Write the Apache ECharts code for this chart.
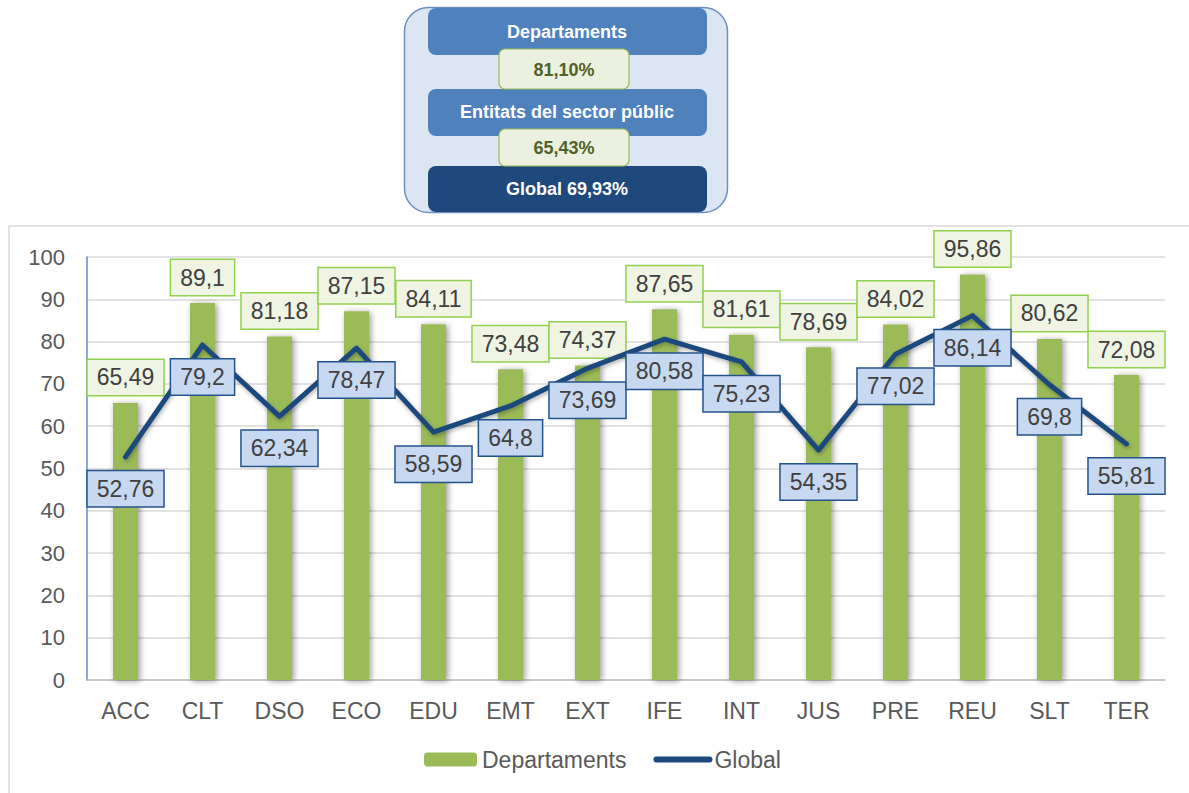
<!DOCTYPE html>
<html>
<head>
<meta charset="utf-8">
<script src="https://cdn.jsdelivr.net/npm/echarts@6/dist/echarts.min.js"></script>
<style>
html,body{margin:0;padding:0;background:#fff;}
#chart{width:1189px;height:793px;}
</style>
</head>
<body>
<div id="chart"></div>
<script>
const categories = ['ACC','CLT','DSO','ECO','EDU','EMT','EXT','IFE','INT','JUS','PRE','REU','SLT','TER'];
const departaments = [65.49, 89.1, 81.18, 87.15, 84.11, 73.48, 74.37, 87.65, 81.61, 78.69, 84.02, 95.86, 80.62, 72.08];
const global = [52.76, 79.2, 62.34, 78.47, 58.59, 64.8, 73.69, 80.58, 75.23, 54.35, 77.02, 86.14, 69.8, 55.81];
const seriesNames = ['Departaments', 'Global'];
const summaryTitles = ['Departaments', 'Entitats del sector públic'];
const summaryValues = ['81,10%', '65,43%'];
const summaryGlobal = 'Global 69,93%';

const FONT = '"Liberation Sans", Arial, sans-serif';
const fmt = v => String(v).replace('.', ',');

const chart = echarts.init(document.getElementById('chart'), null, {renderer: 'svg'});

const option = {
  backgroundColor: '#ffffff',
  animation: false,
  textStyle: {fontFamily: FONT},
  graphic: [
    {type: 'rect', shape: {x: 9, y: 226, width: 1195, height: 600}, style: {fill: 'none', stroke: '#D9D9D9', lineWidth: 1.5}, z: -10, silent: true},
    {type: 'rect', shape: {x: 404.5, y: 7.5, width: 323, height: 205, r: 24}, style: {fill: '#DCE6F2', stroke: '#6F8FBF', lineWidth: 1.5}, z: 1},
    {type: 'rect', shape: {x: 428, y: 8, width: 279, height: 47, r: 8}, style: {fill: '#4F81BD'}, z: 2},
    {type: 'text', x: 567, y: 32, style: {text: summaryTitles[0], fill: '#ffffff', font: 'bold 18px ' + FONT, align: 'center', verticalAlign: 'middle'}, z: 3},
    {type: 'rect', shape: {x: 428, y: 89, width: 279, height: 47, r: 8}, style: {fill: '#4F81BD'}, z: 2},
    {type: 'text', x: 567, y: 112, style: {text: summaryTitles[1], fill: '#ffffff', font: 'bold 18px ' + FONT, align: 'center', verticalAlign: 'middle'}, z: 3},
    {type: 'rect', shape: {x: 428, y: 166, width: 279, height: 46, r: 8}, style: {fill: '#1F497D'}, z: 2},
    {type: 'text', x: 567, y: 189, style: {text: summaryGlobal, fill: '#ffffff', font: 'bold 18px ' + FONT, align: 'center', verticalAlign: 'middle'}, z: 3},
    {type: 'rect', shape: {x: 499, y: 49, width: 130, height: 40, r: 6}, style: {fill: '#EBF1DE', stroke: '#9BBB59', lineWidth: 1.2}, z: 4},
    {type: 'text', x: 564, y: 70, style: {text: summaryValues[0], fill: '#4F6228', font: 'bold 18px ' + FONT, align: 'center', verticalAlign: 'middle'}, z: 5},
    {type: 'rect', shape: {x: 499, y: 129, width: 130, height: 37, r: 6}, style: {fill: '#EBF1DE', stroke: '#9BBB59', lineWidth: 1.2}, z: 4},
    {type: 'text', x: 564, y: 148, style: {text: summaryValues[1], fill: '#4F6228', font: 'bold 18px ' + FONT, align: 'center', verticalAlign: 'middle'}, z: 5}
  ],
  legend: {
    data: [
      {name: seriesNames[0]},
      {name: seriesNames[1], itemStyle: {opacity: 0}, lineStyle: {width: 6, cap: 'round', color: '#1F497D'}}
    ],
    left: 424,
    top: 748,
    padding: 0,
    itemWidth: 53,
    itemHeight: 14,
    itemGap: 27,
    textStyle: {fontSize: 23, color: '#595959', fontFamily: FONT, padding: [0, 0, 0, 0]}
  },
  grid: {left: 87, right: 24, top: 257, bottom: 113, containLabel: false},
  xAxis: {
    type: 'category',
    data: categories,
    axisLine: {show: true, lineStyle: {color: '#BFBFBF', width: 1.5}},
    axisTick: {show: false},
    axisLabel: {color: '#595959', fontSize: 23, margin: 19, fontFamily: FONT}
  },
  yAxis: {
    type: 'value',
    min: 0,
    max: 100,
    interval: 10,
    axisLine: {show: true, lineStyle: {color: '#5B8FD0', width: 1.5}},
    axisTick: {show: false},
    axisLabel: {color: '#595959', fontSize: 22, margin: 22, fontFamily: FONT},
    splitLine: {lineStyle: {color: '#D9D9D9', width: 1.5}}
  },
  series: [
    {
      name: seriesNames[0],
      type: 'bar',
      data: departaments,
      barWidth: 25,
      itemStyle: {color: '#9BBB59', shadowBlur: 6, shadowOffsetX: 2, shadowOffsetY: 1, shadowColor: 'rgba(0,0,0,0.4)'},
      label: {
        show: true,
        position: 'top',
        distance: 8,
        formatter: p => fmt(p.value),
        fontSize: 23,
        color: '#404040',
        fontFamily: FONT,
        backgroundColor: '#EFF4E3',
        borderColor: '#92D050',
        borderWidth: 1.5,
        padding: [6, 9, 6, 9]
      },
      z: 2
    },
    {
      name: seriesNames[1],
      type: 'line',
      data: global,
      symbol: 'circle',
      symbolSize: 1,
      showSymbol: true,
      itemStyle: {color: '#1F497D'},
      lineStyle: {color: '#1F497D', width: 5, join: 'round', cap: 'round', shadowBlur: 4, shadowOffsetX: 1, shadowOffsetY: 2, shadowColor: 'rgba(0,0,0,0.3)'},
      label: {
        show: true,
        position: 'bottom',
        distance: 14,
        formatter: p => fmt(p.value),
        fontSize: 23,
        color: '#404040',
        fontFamily: FONT,
        backgroundColor: '#C6D9F1',
        borderColor: '#24528A',
        borderWidth: 1.5,
        padding: [6, 9, 6, 9]
      },
      z: 3
    }
  ]
};
chart.setOption(option);
</script>
</body>
</html>
